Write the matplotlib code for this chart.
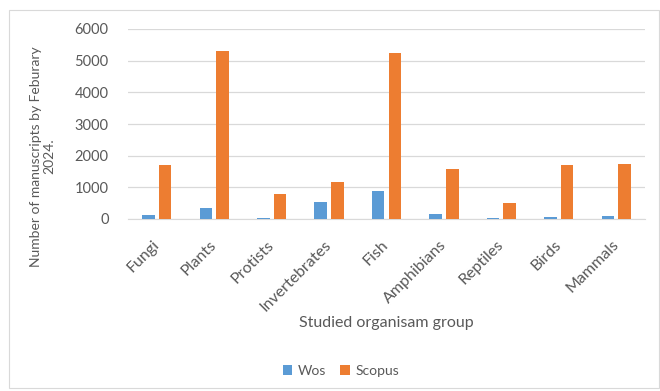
import matplotlib.pyplot as plt
import numpy as np
from matplotlib.patches import Rectangle

groups = ['Fungi', 'Plants', 'Protists', 'Invertebrates', 'Fish',
          'Amphibians', 'Reptiles', 'Birds', 'Mammals']
wos = [130, 340, 30, 550, 890, 160, 30, 60, 105]
scopus = [1700, 5290, 780, 1160, 5230, 1570, 515, 1695, 1735]

plt.rcParams['font.family'] = ['Lato', 'DejaVu Sans']
grey = '#595959'

fig = plt.figure(figsize=(6.6, 3.91), dpi=100)
W, H = 660, 391
ax = fig.add_axes([128 / W, 1 - 219 / H, (645 - 128) / W, (219 - 29) / H])

# chart frame
fig.patches.append(Rectangle((9 / W, 3 / H), 650 / W, 378 / H, transform=fig.transFigure,
                             fill=False, edgecolor='#D9D9D9', linewidth=0.8))

x = np.arange(len(groups))
w = 0.22
ax.bar(x - 0.145, wos, w, color='#5B9BD5', label='Wos', zorder=3)
ax.bar(x + 0.145, scopus, w, color='#ED7D31', label='Scopus', zorder=3)

ax.set_xlim(-0.5, len(groups) - 0.5)
ax.set_ylim(0, 6000)
ax.set_yticks(range(0, 6001, 1000))
ax.yaxis.grid(True, color='#D9D9D9', linewidth=0.9, zorder=0)
for s in ['top', 'right', 'left']:
    ax.spines[s].set_visible(False)
ax.spines['bottom'].set_color('#D9D9D9')
ax.tick_params(axis='both', length=0, colors=grey)
ax.tick_params(axis='y', pad=14, labelsize=10.5)
ax.tick_params(axis='x', pad=17, labelsize=11.5)
ax.set_xticks(x)
ax.set_xticklabels(groups, rotation=45, ha='right', va='center', rotation_mode='anchor')

ax.set_ylabel('Number of manuscripts by Feburary\n2024.', fontsize=10, color=grey,
              linespacing=1.15)
ax.yaxis.set_label_coords(-0.14, 0.33)
fig.text(386 / W, 1 - 323 / H, 'Studied organisam group', ha='center', va='center',
         fontsize=11.5, color=grey)

fig.legend(loc='center', bbox_to_anchor=(341 / W, 1 - 371 / H), ncol=2, frameon=False,
           fontsize=10, handlelength=0.7, handleheight=0.7, columnspacing=1.0,
           handletextpad=0.4, labelcolor=grey)

fig.savefig('out.png', dpi=100)
